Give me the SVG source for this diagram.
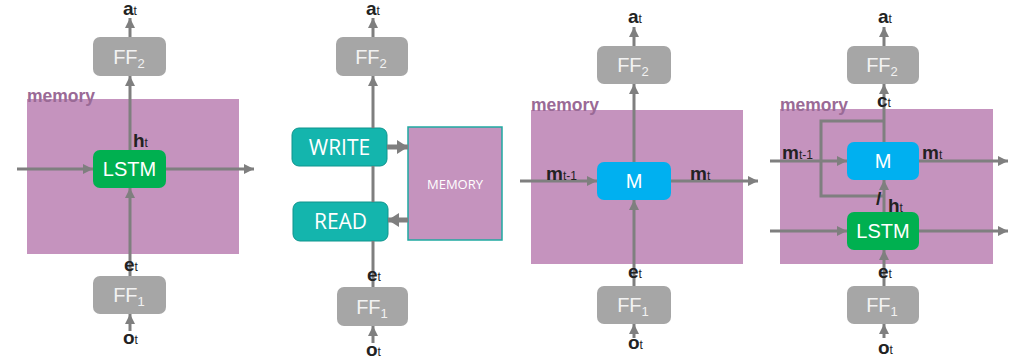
<svg xmlns="http://www.w3.org/2000/svg" width="1024" height="363" viewBox="0 0 1024 363">
<style>
.mem{fill:#c593be}
.memlbl{font-family:"Liberation Sans",Arial,sans-serif;font-weight:bold;font-size:17.5px;fill:#9a6a96}
.ff{fill:#a6a6a6}
.fft{font-family:"Liberation Sans",Arial,sans-serif;font-size:20px;fill:#f2f2f2;text-anchor:middle}
.sub{font-size:13px}
.lstm{fill:#00b050}
.m{fill:#00b0f0}
.bt{font-family:"Liberation Sans",Arial,sans-serif;font-size:20px;fill:#ffffff;text-anchor:middle}
.teal{fill:#14b5ad;stroke:#0e948d;stroke-width:1}
.tt{font-family:"Open Sans","Liberation Sans",sans-serif;font-size:21px;fill:#ffffff;text-anchor:middle}
.lbl{font-family:"Liberation Sans",Arial,sans-serif;font-weight:bold;font-size:19px;fill:#222222}
.ls{font-size:12px;font-weight:normal}
.c{stroke:#7f7f7f;stroke-width:3;fill:none}
.ca{stroke:#7f7f7f;stroke-width:3;fill:none;marker-end:url(#ah)}
.cb{stroke:#7f7f7f;stroke-width:5;fill:none;marker-end:url(#ahb)}
</style>
<defs>
<marker id="ah" markerUnits="userSpaceOnUse" markerWidth="11" markerHeight="11" refX="10" refY="5" orient="auto"><path d="M0,0 L10,5 L0,10 z" fill="#7f7f7f"/></marker>
<marker id="ahb" markerUnits="userSpaceOnUse" markerWidth="12" markerHeight="14" refX="11" refY="7" orient="auto"><path d="M0,0 L11,7 L0,14 z" fill="#7f7f7f"/></marker>
</defs>
<rect width="1024" height="363" fill="#ffffff"/>

<!-- Panel 1 -->
<g id="p1-memory"><rect class="mem" x="27" y="99" width="212" height="155"/><text class="memlbl" x="27" y="102">memory</text></g>
<g id="p1-ff2"><rect class="ff" x="93" y="37" width="73" height="39" rx="7"/><text class="fft" x="129" y="64">FF<tspan class="sub" dy="4">2</tspan></text></g>
<g id="p1-lstm"><rect class="lstm" x="93" y="150" width="73" height="38" rx="7"/><text class="bt" x="129.5" y="176">LSTM</text></g>
<g id="p1-ff1"><rect class="ff" x="93" y="276" width="73" height="38" rx="7"/><text class="fft" x="129" y="302">FF<tspan class="sub" dy="4">1</tspan></text></g>

<!-- Panel 2 -->
<g id="p2-ff2"><rect class="ff" x="336" y="37" width="72" height="39" rx="7"/><text class="fft" x="371" y="64">FF<tspan class="sub" dy="4">2</tspan></text></g>
<g id="p2-write"><rect class="teal" x="292" y="128" width="95" height="38" rx="7"/><text class="tt" x="339.5" y="155">WRITE</text></g>
<g id="p2-read"><rect class="teal" x="293" y="202" width="95" height="39" rx="7"/><text class="tt" x="340.5" y="229">READ</text></g>
<g id="p2-memory"><rect x="408" y="127" width="94" height="113" fill="#c593be" stroke="#1fa9a1" stroke-width="1.5"/><text x="455" y="189" font-family="'Open Sans','Liberation Sans',sans-serif" font-size="13" fill="#ffffff" text-anchor="middle">MEMORY</text></g>
<g id="p2-ff1"><rect class="ff" x="337" y="287" width="71" height="39" rx="7"/><text class="fft" x="372" y="314">FF<tspan class="sub" dy="4">1</tspan></text></g>

<!-- Panel 3 -->
<g id="p3-memory"><rect class="mem" x="531" y="110" width="212" height="154"/><text class="memlbl" x="531" y="111">memory</text></g>
<g id="p3-ff2"><rect class="ff" x="597" y="46" width="74" height="38" rx="7"/><text class="fft" x="633" y="72">FF<tspan class="sub" dy="4">2</tspan></text></g>
<g id="p3-m"><rect class="m" x="597" y="162" width="74" height="38" rx="7"/><text class="bt" x="634" y="188">M</text></g>
<g id="p3-ff1"><rect class="ff" x="597" y="286" width="74" height="38" rx="7"/><text class="fft" x="633" y="312">FF<tspan class="sub" dy="4">1</tspan></text></g>

<!-- Panel 4 -->
<g id="p4-memory"><rect class="mem" x="780" y="109" width="213" height="155"/><text class="memlbl" x="780" y="111">memory</text></g>
<g id="p4-ff2"><rect class="ff" x="847" y="46" width="72" height="38" rx="7"/><text class="fft" x="882" y="72">FF<tspan class="sub" dy="4">2</tspan></text></g>
<g id="p4-m"><rect class="m" x="847" y="142" width="72" height="38" rx="7"/><text class="bt" x="883" y="168">M</text></g>
<g id="p4-lstm"><rect class="lstm" x="847" y="212" width="72" height="38" rx="7"/><text class="bt" x="883" y="238">LSTM</text></g>
<g id="p4-ff1"><rect class="ff" x="847" y="286" width="72" height="38" rx="7"/><text class="fft" x="882" y="312">FF<tspan class="sub" dy="4">1</tspan></text></g>

<g id="connectors">
<!-- p1 -->
<line class="ca" x1="130" y1="331" x2="130" y2="314"/>
<line class="ca" x1="130" y1="276" x2="130" y2="188"/>
<line class="ca" x1="130" y1="150" x2="130" y2="76"/>
<line class="ca" x1="130" y1="37" x2="130" y2="18"/>
<line class="ca" x1="17" y1="169" x2="93" y2="169"/>
<line class="ca" x1="166" y1="169" x2="254" y2="169"/>
<!-- p2 -->
<line class="ca" x1="373" y1="343" x2="373" y2="326"/>
<line class="c" x1="373" y1="287" x2="373" y2="241"/>
<line class="c" x1="373" y1="202" x2="373" y2="166"/>
<line class="ca" x1="373" y1="128" x2="373" y2="76"/>
<line class="ca" x1="373" y1="37" x2="373" y2="18"/>
<line class="cb" x1="387" y1="147" x2="408" y2="147"/>
<line class="cb" x1="408" y1="220" x2="388" y2="220"/>
<!-- p3 -->
<line class="ca" x1="634" y1="338" x2="634" y2="324"/>
<line class="ca" x1="634" y1="286" x2="634" y2="200"/>
<line class="ca" x1="634" y1="162" x2="634" y2="84"/>
<line class="ca" x1="634" y1="46" x2="634" y2="27"/>
<line class="ca" x1="520" y1="181" x2="597" y2="181"/>
<line class="ca" x1="671" y1="181" x2="758" y2="181"/>
<!-- p4 -->
<line class="ca" x1="884" y1="338" x2="884" y2="324"/>
<line class="ca" x1="884" y1="286" x2="884" y2="250"/>
<line class="ca" x1="884" y1="212" x2="884" y2="180"/>
<line class="ca" x1="884" y1="142" x2="884" y2="84"/>
<line class="ca" x1="884" y1="46" x2="884" y2="27"/>
<path class="c" d="M884,121 H821 V196 H884"/>
<line class="ca" x1="770" y1="161" x2="847" y2="161"/>
<line class="ca" x1="919" y1="161" x2="1008" y2="161"/>
<line class="ca" x1="770" y1="231" x2="847" y2="231"/>
<line class="ca" x1="919" y1="231" x2="1008" y2="231"/>
</g>

<g id="labels">
<text class="lbl" x="123" y="15">a<tspan class="ls">t</tspan></text>
<text class="lbl" x="133" y="147">h<tspan class="ls">t</tspan></text>
<text class="lbl" x="124" y="271">e<tspan class="ls">t</tspan></text>
<text class="lbl" x="123" y="344">o<tspan class="ls">t</tspan></text>

<text class="lbl" x="366" y="15">a<tspan class="ls">t</tspan></text>
<text class="lbl" x="367" y="281">e<tspan class="ls">t</tspan></text>
<text class="lbl" x="366" y="356">o<tspan class="ls">t</tspan></text>

<text class="lbl" x="628" y="23">a<tspan class="ls">t</tspan></text>
<text class="lbl" x="546" y="180">m<tspan class="ls">t-1</tspan></text>
<text class="lbl" x="690" y="180">m<tspan class="ls">t</tspan></text>
<text class="lbl" x="628" y="278">e<tspan class="ls">t</tspan></text>
<text class="lbl" x="628" y="349">o<tspan class="ls">t</tspan></text>

<text class="lbl" x="878" y="23">a<tspan class="ls">t</tspan></text>
<text class="lbl" x="877" y="107">c<tspan class="ls">t</tspan></text>
<text class="lbl" x="782" y="159">m<tspan class="ls">t-1</tspan></text>
<text class="lbl" x="922" y="159">m<tspan class="ls">t</tspan></text>
<text class="lbl" x="876" y="205">/</text>
<text class="lbl" x="888" y="212">h<tspan class="ls">t</tspan></text>
<text class="lbl" x="878" y="278">e<tspan class="ls">t</tspan></text>
<text class="lbl" x="878" y="354">o<tspan class="ls">t</tspan></text>
</g>
</svg>
